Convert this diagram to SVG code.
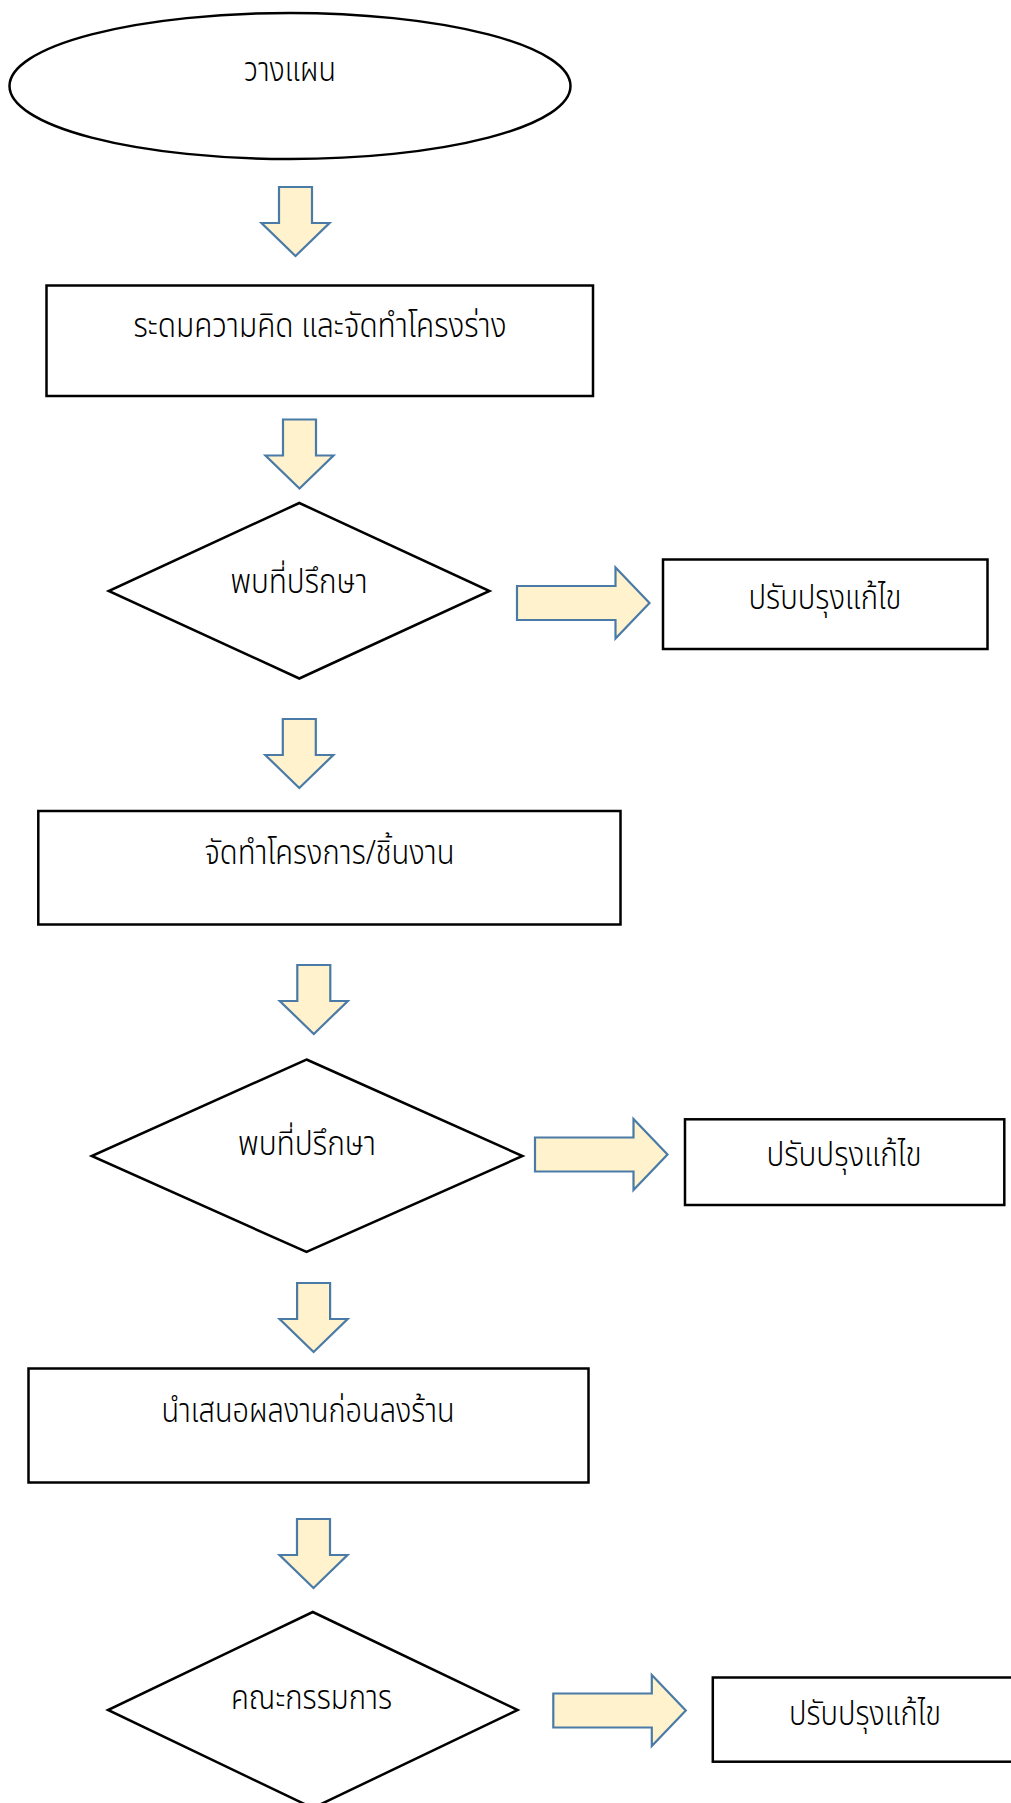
<svg xmlns="http://www.w3.org/2000/svg" width="1011" height="1803" viewBox="0 0 1011 1803">
<style>
.box{fill:#fff;stroke:#000;stroke-width:2.5}
.arr{fill:#FFF2CC;stroke:#4A7AA6;stroke-width:2.2;stroke-linejoin:miter}
.t{font-family:"Noto Sans Thai","Noto Sans",sans-serif;font-size:33px;font-weight:300;fill:#000;text-anchor:middle}
</style>
<defs>
<path id="down" d="M-16.5,0 H16.5 V36 H34 L0,69 L-34,36 H-16.5 Z"/>
<path id="right" d="M0,-17 H98.5 V-35.5 L132.5,0 L98.5,35.5 V17 H0 Z"/>
</defs>
<rect width="1011" height="1803" fill="#fff"/>
<g id="connectors">
<use href="#down" class="arr" x="295.5" y="187"/>
<use href="#down" class="arr" x="299.5" y="419.5"/>
<use href="#down" class="arr" x="299.3" y="719"/>
<use href="#down" class="arr" x="313.8" y="965"/>
<use href="#down" class="arr" x="313.6" y="1283"/>
<use href="#down" class="arr" x="313.5" y="1519"/>
<use href="#right" class="arr" x="517" y="603"/>
<use href="#right" class="arr" x="535" y="1154.5"/>
<use href="#right" class="arr" x="553.3" y="1710.5"/>
</g>
<g id="n1"><ellipse class="box" cx="290" cy="86" rx="280.5" ry="73"/><text class="t" x="290" y="81" textLength="92" lengthAdjust="spacingAndGlyphs">วางแผน</text></g>
<g id="n2"><rect class="box" x="46.5" y="285.5" width="546.5" height="110.5"/><text class="t" x="320" y="337" textLength="373" lengthAdjust="spacingAndGlyphs">ระดมความคิด และจัดทำโครงร่าง</text></g>
<g id="n3"><polygon class="box" points="299.3,503 489.5,591 299.3,678.5 108.7,591"/><text class="t" x="299" y="593" textLength="137" lengthAdjust="spacingAndGlyphs">พบที่ปรึกษา</text></g>
<g id="n4"><rect class="box" x="663" y="559.5" width="324.5" height="89.5"/><text class="t" x="825" y="608.5" textLength="153" lengthAdjust="spacingAndGlyphs">ปรับปรุงแก้ไข</text></g>
<g id="n5"><rect class="box" x="38.3" y="811" width="582.2" height="113.5"/><text class="t" x="329.5" y="863.5" textLength="250" lengthAdjust="spacingAndGlyphs">จัดทำโครงการ/ชิ้นงาน</text></g>
<g id="n6"><polygon class="box" points="306.5,1059.5 522.5,1156 306.5,1252 91.7,1156"/><text class="t" x="307" y="1155" textLength="138" lengthAdjust="spacingAndGlyphs">พบที่ปรึกษา</text></g>
<g id="n7"><rect class="box" x="685" y="1119.3" width="319.3" height="85.7"/><text class="t" x="844" y="1166" textLength="155" lengthAdjust="spacingAndGlyphs">ปรับปรุงแก้ไข</text></g>
<g id="n8"><rect class="box" x="28.5" y="1368.5" width="560" height="114"/><text class="t" x="308" y="1421.5" textLength="293" lengthAdjust="spacingAndGlyphs">นำเสนอผลงานก่อนลงร้าน</text></g>
<g id="n9"><polygon class="box" points="312.8,1612 517.6,1710 312.8,1808 108,1710"/><text class="t" x="311.5" y="1708.5" textLength="161" lengthAdjust="spacingAndGlyphs">คณะกรรมการ</text></g>
<g id="n10"><rect class="box" x="712.8" y="1677.5" width="320" height="84.2"/><text class="t" x="865" y="1725" textLength="152" lengthAdjust="spacingAndGlyphs">ปรับปรุงแก้ไข</text></g>
</svg>
